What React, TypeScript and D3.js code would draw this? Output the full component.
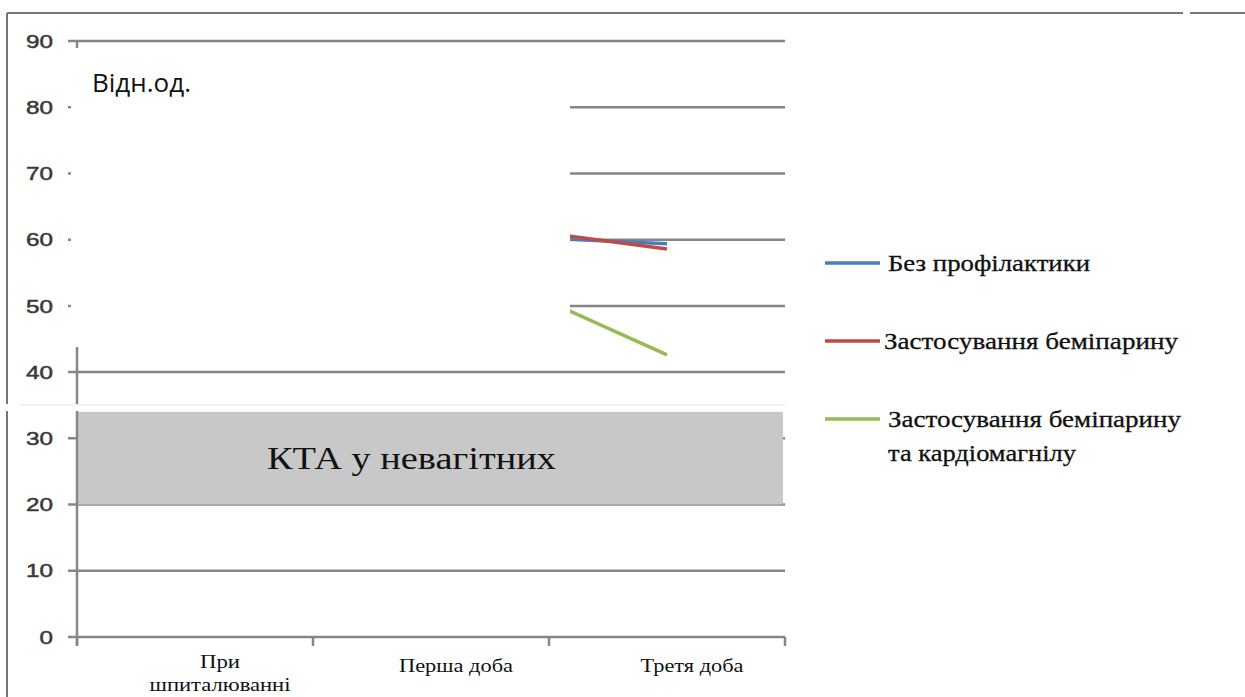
import React from "react";
import * as d3 from "d3";

const categories = ["При шпиталюванні", "Перша доба", "Третя доба"];
const categoryLabelLines = [["При", "шпиталюванні"], ["Перша доба"], ["Третя доба"]];
const yTicks = [0, 10, 20, 30, 40, 50, 60, 70, 80, 90];
const seriesNames = ["Без профілактики", "Застосування беміпарину", "Застосування беміпарину та кардіомагнілу"];
const legendLines = [["Без профілактики"], ["Застосування беміпарину"], ["Застосування беміпарину", "та кардіомагнілу"]];
const seriesColors = ["#4a7ebb", "#be4b48", "#98b954"];
const noPrevention = [70, 61, 59.4];
const bemiparin = [71, 63.3, 58.6];
const bemiparinCardio = [69, 58.7, 42.6];
const bandRange = [20, 34];
const bandLabel = "КТА у невагітних";
const unitLabel = "Відн.од.";

// rendered widths of the (horizontally stretched) labels in the picture
const catLabelWidths = [[40, 141], [114], [103]];
const legendWidths = [[202], [294], [293, 188]];

export default function App() {
  const x = d3.scaleBand().domain(categories).range([77, 785]);
  const y = d3.scaleLinear().domain([0, 90]).range([637, 41]);
  const series = [noPrevention, bemiparin, bemiparinCardio];
  const line = d3
    .line<number>()
    .x((_, i) => (x(categories[i]) as number) + x.bandwidth() / 2)
    .y((d) => y(d));
  const grid = "#868686";
  const serif = { fontFamily: "Liberation Serif" };
  const sans = { fontFamily: "Liberation Sans" };
  const openSans = { fontFamily: "Open Sans" };
  const legendY = [263, 341, 419];

  return (
    <svg width={1245} height={697} style={{ position: "absolute", left: 0, top: 0, background: "#fff" }}>
      {/* frame */}
      <line x1={7} y1={13} x2={1183} y2={13} stroke="#777" strokeWidth={2} />
      <line x1={1190} y1={13} x2={1245} y2={13} stroke="#777" strokeWidth={2} />
      <line x1={7} y1={13} x2={7} y2={697} stroke="#777" strokeWidth={2} />

      {/* gridlines */}
      {yTicks.map((t) => (
        <line key={t} x1={68} x2={785} y1={y(t)} y2={y(t)} stroke={grid} strokeWidth={2.5} />
      ))}

      {/* band */}
      <rect x={77} width={706} y={y(bandRange[1])} height={y(bandRange[0]) - y(bandRange[1])} fill="#c8c8c8" />
      <text
        x={267}
        y={y((bandRange[0] + bandRange[1]) / 2)}
        dy="0.36em"
        style={serif}
        fontSize={31}
        fill="#111"
        textLength={289}
        lengthAdjust="spacingAndGlyphs"
      >
        {bandLabel}
      </text>

      {/* y axis */}
      <line x1={77} x2={77} y1={41} y2={645} stroke={grid} strokeWidth={2.5} />
      {yTicks.map((t) => (
        <text
          key={t}
          x={53}
          y={y(t)}
          dy="0.36em"
          textAnchor="end"
          style={sans}
          fontSize={18.5}
          fill="#3a3a3a"
          stroke="#3a3a3a"
          strokeWidth={0.5}
          textLength={String(t).length * 13.5}
          lengthAdjust="spacingAndGlyphs"
        >
          {t}
        </text>
      ))}

      {/* x axis ticks */}
      {[...categories.map((c) => x(c) as number), 785].map((px, i) => (
        <line key={i} x1={px} x2={px} y1={637} y2={646} stroke={grid} strokeWidth={2.5} />
      ))}
      {categoryLabelLines.map((lines, i) => {
        const cx = (x(categories[i]) as number) + x.bandwidth() / 2 + 25;
        const y0 = lines.length > 1 ? 668 : 672;
        return lines.map((l, j) => (
          <text
            key={`${i}-${j}`}
            x={cx - catLabelWidths[i][j] / 2}
            y={y0 + j * 23}
            style={serif}
            fontSize={18}
            fill="#111"
            textLength={catLabelWidths[i][j]}
            lengthAdjust="spacingAndGlyphs"
          >
            {l}
          </text>
        ));
      })}

      {/* series */}
      {series.map((s, i) => (
        <path key={i} d={line(s) as string} fill="none" stroke={seriesColors[i]} strokeWidth={3.5} />
      ))}

      {/* white cover patches */}
      <rect x={71} y={48} width={499} height={299} fill="#fff" />
      <rect x={0} y={404} width={786} height={7} fill="#fff" />
      <line x1={20} x2={785} y1={405} y2={405} stroke="#e4e4e4" strokeWidth={1} />

      <text x={92} y={92} style={openSans} fontSize={26} fill="#111">
        {unitLabel}
      </text>

      {/* legend */}
      {seriesNames.map((n, i) => (
        <g key={n}>
          <line x1={825} x2={880} y1={legendY[i]} y2={legendY[i]} stroke={seriesColors[i]} strokeWidth={3.5} />
          {legendLines[i].map((l, j) => (
            <text
              key={j}
              x={i === 1 ? 884 : 888}
              y={legendY[i] + j * 34}
              dy="0.35em"
              style={serif}
              fontSize={23}
              fill="#111"
              stroke="#111"
              strokeWidth={0.3}
              textLength={legendWidths[i][j]}
              lengthAdjust="spacingAndGlyphs"
            >
              {l}
            </text>
          ))}
        </g>
      ))}
    </svg>
  );
}
